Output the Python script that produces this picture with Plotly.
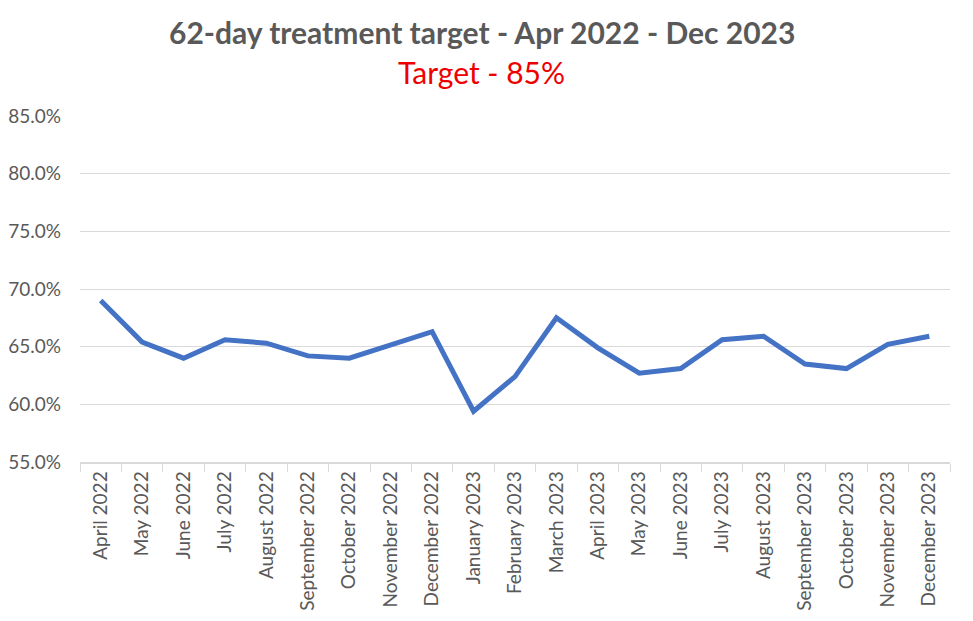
import plotly.graph_objects as go

months = ["April 2022", "May 2022", "June 2022", "July 2022", "August 2022",
          "September 2022", "October 2022", "November 2022", "December 2022",
          "January 2023", "February 2023", "March 2023", "April 2023", "May 2023",
          "June 2023", "July 2023", "August 2023", "September 2023", "October 2023",
          "November 2023", "December 2023"]
performance = [0.690, 0.654, 0.640, 0.656, 0.653, 0.642, 0.640, 0.651, 0.663,
               0.594, 0.624, 0.675, 0.649, 0.627, 0.631, 0.656, 0.659, 0.635,
               0.631, 0.652, 0.659]
y_ticks = [0.55, 0.60, 0.65, 0.70, 0.75, 0.80, 0.85]

title_text = "62-day treatment target - Apr 2022 - Dec 2023"
subtitle_text = "Target - 85%"

FONT = "Lato, 'Open Sans', sans-serif"

fig = go.Figure()
fig.add_trace(go.Scatter(
    x=months, y=performance, mode="lines",
    line=dict(color="#4472C4", width=5),
    showlegend=False, hoverinfo="x+y",
))

fig.update_layout(
    width=965, height=613,
    margin=dict(l=72, r=23, t=108, b=159),
    paper_bgcolor="white", plot_bgcolor="white",
    font=dict(family=FONT, color="#595959", size=19),
    annotations=[
        dict(text="<b>" + title_text + "</b>", xref="paper", yref="paper",
             x=0.462, y=1.243, xanchor="center", yanchor="middle", showarrow=False,
             font=dict(family=FONT, size=30, color="#595959")),
        dict(text=subtitle_text, xref="paper", yref="paper",
             x=0.462, y=1.127, xanchor="center", yanchor="middle", showarrow=False,
             font=dict(family=FONT, size=30, color="#EE0000")),
    ],
)
fig.update_xaxes(
    type="category", tickangle=-90, showgrid=False, automargin=False,
    showline=True, linecolor="#D9D9D9", linewidth=1.5,
    ticks="outside", tickson="boundaries", ticklen=8, tickcolor="#D9D9D9",
    tickfont=dict(size=19, color="#595959"), range=[-0.5, len(months) - 0.5],
)
fig.update_yaxes(
    range=[0.55, 0.85], tickvals=y_ticks, tickformat=".1%", automargin=False,
    showgrid=True, gridcolor="#D9D9D9", gridwidth=1.2,
    zeroline=False, showline=False, ticks="", ticklen=0,
    ticklabelstandoff=18,
    tickfont=dict(size=19, color="#595959"),
)

fig.write_html("out.html")
